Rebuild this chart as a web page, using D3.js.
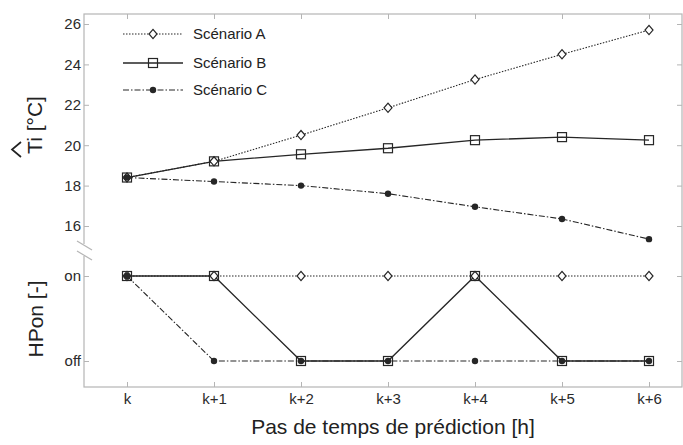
<!DOCTYPE html>
<html><head><meta charset="utf-8">
<script src="https://cdn.jsdelivr.net/npm/d3@7/dist/d3.min.js"></script>
<style>body{margin:0;background:#fff}svg{display:block}text{font-family:"Liberation Sans",Arial,sans-serif}</style>
</head><body>
<svg id="c" width="683" height="445"></svg>
<script>
const steps = ["k","k+1","k+2","k+3","k+4","k+5","k+6"];
const tiA = [18.4,19.2,20.5,21.85,23.25,24.5,25.7];
const tiB = [18.4,19.2,19.55,19.85,20.25,20.4,20.25];
const tiC = [18.4,18.2,18.0,17.6,16.95,16.35,15.35];
const hpA = ["on","on","on","on","on","on","on"];
const hpB = ["on","on","off","off","on","off","off"];
const hpC = ["on","off","off","off","off","off","off"];
const tiTicks = [16,18,20,22,24,26];
const hpLevels = ["on","off"];
const seriesNames = ["Scénario A","Scénario B","Scénario C"];

const svg = d3.select("#c");
const L = 84, R = 682, T = 14, B = 387;
const x = d3.scalePoint().domain(steps).range([127, 649]);
const yT = d3.scaleLinear().domain([16, 26]).range([226, 24]);
const yH = d3.scalePoint().domain(hpLevels).range([276, 361]);
const axisCol = "#b5b5b5", ink = "#262626";

// frame
svg.append("rect").attr("x", L).attr("y", T).attr("width", R - L).attr("height", B - T)
  .attr("fill", "none").attr("stroke", axisCol).attr("stroke-width", 1.2);

function styleAxis(g) {
  g.select(".domain").remove();
  g.selectAll(".tick line").attr("stroke", axisCol).attr("stroke-width", 1);
  g.selectAll(".tick text").attr("fill", "#2a2a2a").style("font-size", "15px");
}
// left axes (inward ticks)
svg.append("g").attr("transform", `translate(${L},0)`)
  .call(d3.axisLeft(yT).tickValues(tiTicks).tickSizeInner(-5).tickSizeOuter(0).tickPadding(3).tickFormat(d3.format("d")))
  .call(styleAxis);
svg.append("g").attr("transform", `translate(${L},0)`)
  .call(d3.axisLeft(yH).tickSizeInner(-5).tickSizeOuter(0).tickPadding(3))
  .call(styleAxis);
// right mirror ticks
svg.append("g").attr("transform", `translate(${R},0)`)
  .call(d3.axisRight(yT).tickValues(tiTicks).tickSizeInner(-5).tickSizeOuter(0).tickFormat(""))
  .call(styleAxis);
svg.append("g").attr("transform", `translate(${R},0)`)
  .call(d3.axisRight(yH).tickSizeInner(-5).tickSizeOuter(0).tickFormat(""))
  .call(styleAxis);
// bottom and top
svg.append("g").attr("transform", `translate(0,${B})`)
  .call(d3.axisBottom(x).tickSizeInner(-5).tickSizeOuter(0).tickPadding(6))
  .call(styleAxis);
svg.append("g").attr("transform", `translate(0,${T})`)
  .call(d3.axisTop(x).tickSizeInner(-5).tickSizeOuter(0).tickFormat(""))
  .call(styleAxis);

// axis break marks
svg.append("rect").attr("x", L - 2).attr("y", 244).attr("width", 4).attr("height", 12).attr("fill", "#fff");
[[241, 250], [251, 260]].forEach(([a, b]) => {
  svg.append("line").attr("x1", L - 7).attr("y1", a).attr("x2", L + 8).attr("y2", b)
    .attr("stroke", axisCol).attr("stroke-width", 1.2);
});

// styles
const styles = [
  {dash: "1.5,1.5", w: 1.1, marker: "diamond"},
  {dash: null, w: 1.3, marker: "square"},
  {dash: "6,2,1.5,2", w: 1.1, marker: "circle"}
];
const tiData = [tiA, tiB, tiC];
const hpData = [hpA, hpB, hpC];

const lineT = d3.line().x((d, i) => x(steps[i])).y(d => yT(d));
const lineH = d3.line().x((d, i) => x(steps[i])).y(d => yH(d));

function drawLine(g, pathD, st) {
  const p = g.append("path").attr("d", pathD).attr("fill", "none").attr("stroke", ink).attr("stroke-width", st.w);
  if (st.dash) p.attr("stroke-dasharray", st.dash);
}
const diamondType = { draw(ctx, size) { const w = 4, h = 4.6; ctx.moveTo(0, -h); ctx.lineTo(w, 0); ctx.lineTo(0, h); ctx.lineTo(-w, 0); ctx.closePath(); } };
function drawMarker(g, cx, cy, type) {
  if (type === "diamond") {
    g.append("path").attr("d", d3.symbol().type(diamondType)()).attr("transform", `translate(${cx},${cy})`)
      .attr("fill", "#fff").attr("stroke", ink).attr("stroke-width", 1.2);
  } else if (type === "square") {
    g.append("rect").attr("x", cx - 4.5).attr("y", cy - 4.5).attr("width", 9).attr("height", 9)
      .attr("fill", "none").attr("stroke", ink).attr("stroke-width", 1.2);
  } else {
    g.append("circle").attr("cx", cx).attr("cy", cy).attr("r", 3.2).attr("fill", ink);
  }
}

const gl = svg.append("g");
styles.forEach((st, s) => {
  drawLine(gl, lineT(tiData[s]), st);
  drawLine(gl, lineH(hpData[s]), st);
});
const gm = svg.append("g");
[0, 1, 2].forEach(s => {
  tiData[s].forEach((v, i) => drawMarker(gm, x(steps[i]), yT(v), styles[s].marker));
  hpData[s].forEach((v, i) => drawMarker(gm, x(steps[i]), yH(v), styles[s].marker));
});

// legend
const legY = [34, 63, 90];
seriesNames.forEach((name, s) => {
  const g = svg.append("g");
  drawLine(g, d3.line()([[123, legY[s]], [183, legY[s]]]), styles[s]);
  drawMarker(g, 153, legY[s], styles[s].marker);
  g.append("text").attr("x", 193).attr("y", legY[s] + 5).attr("fill", "#222").style("font-size", "15px").text(name);
});

// axis titles
svg.append("text").attr("x", 393).attr("y", 434).attr("text-anchor", "middle")
  .attr("fill", "#222").style("font-size", "21px").text("Pas de temps de prédiction [h]");
svg.append("text").attr("transform", "translate(42,125) rotate(-90)").attr("text-anchor", "middle")
  .attr("fill", "#222").style("font-size", "21px").text("Ti [°C]");
// hat over T
svg.append("path").attr("d", "M21,142 L12,149.5 L21,157").attr("fill", "none").attr("stroke", "#222").attr("stroke-width", 1.7);
svg.append("text").attr("transform", "translate(43,319) rotate(-90)").attr("text-anchor", "middle")
  .attr("fill", "#222").style("font-size", "21px").text("HPon [-]");
</script>
</body></html>
